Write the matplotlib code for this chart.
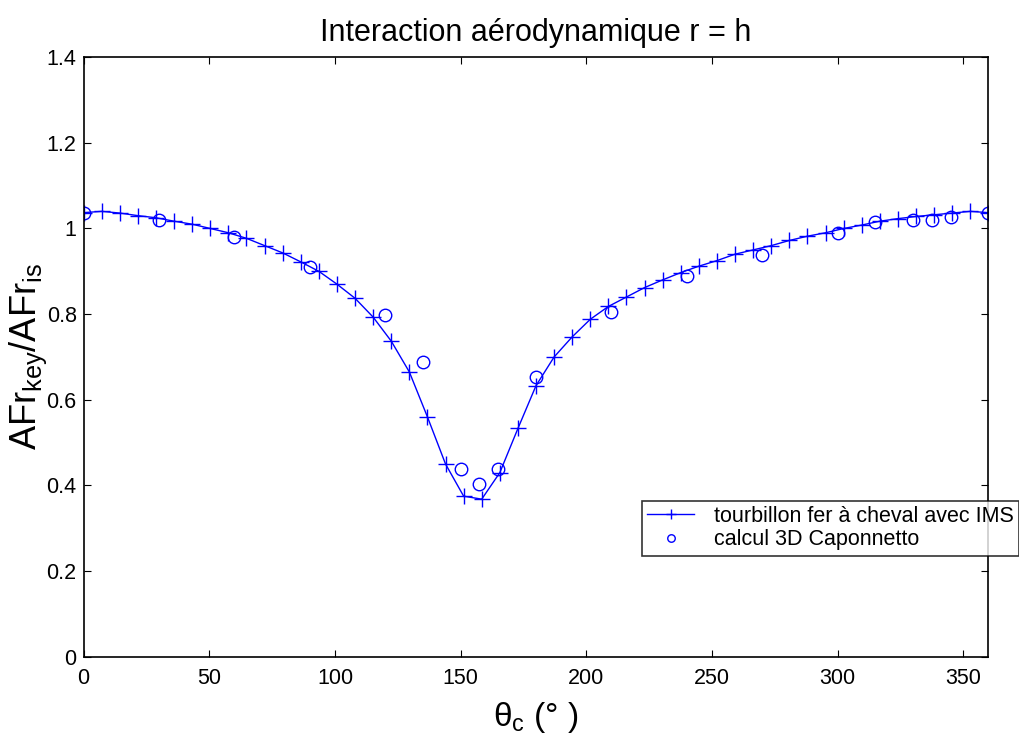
import numpy as np
import matplotlib.pyplot as plt

plt.rcParams['font.family'] = ['Liberation Sans', 'DejaVu Sans']
plt.rcParams['mathtext.fontset'] = 'custom'
plt.rcParams['mathtext.rm'] = 'Liberation Sans'
plt.rcParams['mathtext.it'] = 'Liberation Sans'

# courbe tourbillon fer a cheval (pas de 7.2 deg)
theta_ims = np.linspace(0, 360, 51)
afr_ims = [1.037, 1.040, 1.036, 1.030, 1.025, 1.017, 1.010, 1.000, 0.990, 0.977,
           0.960, 0.943, 0.922, 0.900, 0.870, 0.837, 0.793, 0.737, 0.665, 0.560,
           0.450, 0.375, 0.368, 0.430, 0.533, 0.633, 0.700, 0.747, 0.788, 0.818,
           0.840, 0.862, 0.880, 0.897, 0.912, 0.925, 0.940, 0.950, 0.960, 0.972,
           0.982, 0.990, 1.000, 1.008, 1.017, 1.023, 1.028, 1.032, 1.036, 1.040,
           1.037]

# points calcul 3D Caponnetto
theta_cap = [0, 30, 60, 90, 120, 135, 150, 157.5, 165, 180, 210, 240, 270,
             300, 315, 330, 337.5, 345, 360]
afr_cap = [1.037, 1.020, 0.980, 0.910, 0.798, 0.689, 0.438, 0.404, 0.438, 0.654,
           0.805, 0.890, 0.937, 0.990, 1.015, 1.020, 1.020, 1.027, 1.037]

fig = plt.figure(figsize=(10.2, 7.33), dpi=100)
ax = fig.add_axes([0.082, 0.104, 0.887, 0.818])

ax.plot(theta_ims, afr_ims, color='blue', marker='+', markersize=11, lw=1,
        label='tourbillon fer à cheval avec IMS')
ax.plot(theta_cap, afr_cap, ls='', marker='o', markersize=9, mfc='none',
        mec='blue', label='calcul 3D Caponnetto')

ax.set_xlim(0, 360)
ax.set_ylim(0, 1.4)
ax.set_xticks(np.arange(0, 351, 50))
ax.set_yticks([0, 0.2, 0.4, 0.6, 0.8, 1, 1.2, 1.4])
ax.set_yticklabels(['0', '0.2', '0.4', '0.6', '0.8', '1', '1.2', '1.4'])
ax.tick_params(direction='in', top=True, right=True, labelsize=15.5, length=5)
ax.tick_params(axis='x', pad=8)
ax.tick_params(axis='y', pad=5)
for s in ax.spines.values():
    s.set_linewidth(1.2)

ax.set_title('Interaction aérodynamique r = h', fontsize=22, pad=12)
ax.set_xlabel(r'$\mathregular{θ_{c}}$ (° )', fontsize=24, labelpad=8)
ax.set_ylabel(r'$\mathregular{AFr_{key}/AFr_{is}}$', fontsize=26, labelpad=-2)

leg = ax.legend(loc='upper right', bbox_to_anchor=(0.999, 0.317),
                bbox_transform=fig.transFigure, fontsize=15.5, frameon=True,
                fancybox=False, edgecolor='black', borderpad=0.25,
                labelspacing=0.1, handlelength=2.2, handletextpad=0.9,
                markerscale=0.6, borderaxespad=0)
leg.get_frame().set_linewidth(1.2)

fig.savefig('out.png')
